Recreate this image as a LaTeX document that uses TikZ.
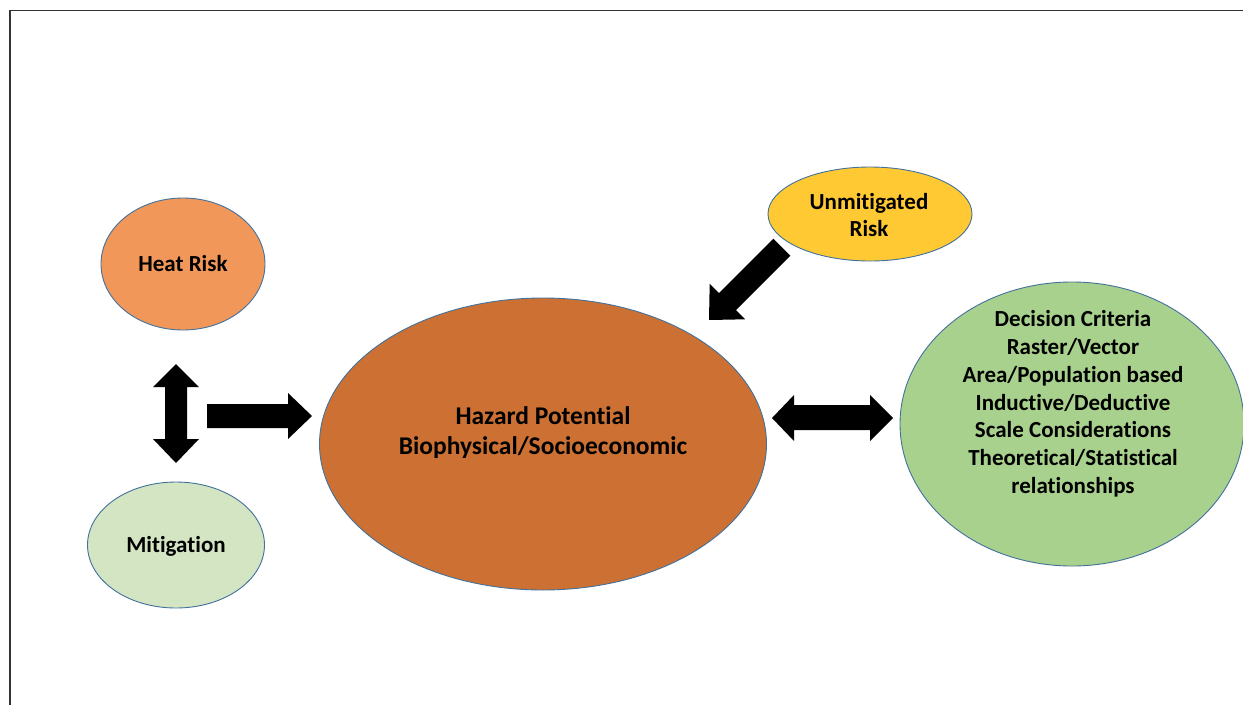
\documentclass[tikz,border=0pt]{standalone}
\usepackage{fontspec}
\setmainfont{Carlito}[Ligatures={NoCommon}, RawFeature={-calt}]
\usetikzlibrary{shapes.geometric}
\definecolor{heatc}{HTML}{F1975A}
\definecolor{mitc}{HTML}{D3E5C3}
\definecolor{hazc}{HTML}{CC7133}
\definecolor{unmc}{HTML}{FFC933}
\definecolor{decc}{HTML}{A9D18E}
\definecolor{edgec}{HTML}{41719C}
\definecolor{framec}{HTML}{333333}
\newcommand\mylines[1]{\begin{tabular}[t]{@{}c@{}}#1\end{tabular}}
\begin{document}
\begin{tikzpicture}[x=1pt,y=-1pt,
  blob/.style={ellipse, draw=edgec, line width=0.9pt, inner sep=0pt},
  lbl/.style={anchor=base, inner sep=0pt, font=\fontsize{23}{27.8}\selectfont\bfseries},
  biglbl/.style={anchor=base, inner sep=0pt, font=\fontsize{25.5}{30}\selectfont\bfseries},
  blockarrow/.style={fill=black, draw=none}]
\useasboundingbox (0,0) rectangle (1243,705);
% frame
\draw[framec, line width=1.4pt] (10,705) -- (10,10.5) -- (1243,10.5);
% ellipses
\node[blob, fill=heatc, minimum width=164pt, minimum height=132pt] (heat) at (183,264) {};
\node[blob, fill=mitc, minimum width=177pt, minimum height=126pt] (mit) at (176,545) {};
\node[blob, fill=hazc, minimum width=447pt, minimum height=292pt] (haz) at (543,444) {};
\node[blob, fill=unmc, minimum width=204pt, minimum height=94pt] (unm) at (870,214) {};
\node[blob, fill=decc, minimum width=344pt, minimum height=284pt] (dec) at (1072,424) {};
% texts
\node[lbl] (heatt) at (183,271) {Heat Risk};
\node[lbl] (mitt) at (176,552) {Mitigation};
\node[lbl] (unmt) at (869,209) {\mylines{Unmitigated\\Risk}};
\node[biglbl] (hazt) at (543,424) {\mylines{Hazard Potential\\Biophysical/Socioeconomic}};
\node[lbl] (dect) at (1073,326.7) {\mylines{Decision Criteria\\Raster/Vector\\Area/Population based\\Inductive/Deductive\\Scale Considerations\\Theoretical/Statistical\\relationships}};
% block arrows
\fill[blockarrow] (176,364) -- (199,387) -- (187,387) -- (187,439) -- (199,439) -- (176,463)
  -- (153,439) -- (165,439) -- (165,387) -- (153,387) -- cycle;
\fill[blockarrow] (207,404) -- (288,404) -- (288,393) -- (312,416) -- (288,439) -- (288,428) -- (207,428) -- cycle;
\fill[blockarrow] (772,418) -- (794,395) -- (794,405) -- (870,405) -- (870,395) -- (893,418)
  -- (870,441) -- (870,430) -- (794,430) -- (794,441) -- cycle;
\fill[blockarrow] (709,320) -- (745.1,319.3) -- (735.9,310.1) -- (790.3,255.7) -- (773.3,238.7)
  -- (718.9,293.1) -- (709.7,283.9) -- cycle;
\end{tikzpicture}
\end{document}
